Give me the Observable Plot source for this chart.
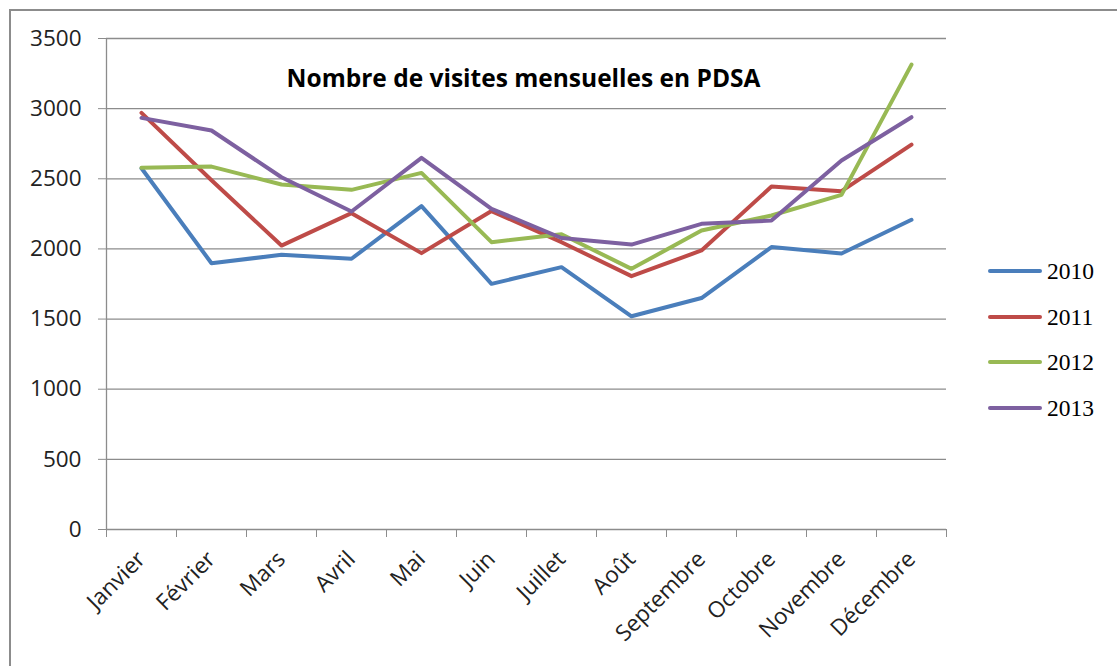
<!DOCTYPE html>
<html>
<head>
<meta charset="utf-8">
<script src="https://cdn.jsdelivr.net/npm/d3@7"></script>
<script src="https://cdn.jsdelivr.net/npm/@observablehq/plot@0.6"></script>
<style>
  html, body { margin: 0; padding: 0; background: #fff; }
  #wrap { position: relative; width: 1117px; height: 666px; overflow: hidden; }
  #border { position: absolute; left: 9px; top: 9px; width: 1200px; height: 800px; border: 2px solid #8c8c8c; box-sizing: border-box; pointer-events: none; }
  #legend { position: absolute; left: 988px; top: 0; font-family: "Liberation Serif", serif; font-size: 23.5px; color: #000; }
  .item { position: absolute; left: 0; display: flex; align-items: center; white-space: nowrap; }
  .swatch { width: 54px; height: 4px; border-radius: 2px; margin-right: 5px; }
</style>
</head>
<body>
<div id="wrap"><div id="chart"></div><div id="legend"></div><div id="border"></div></div>
<script>
const title = "Nombre de visites mensuelles en PDSA";
const months = ["Janvier","Février","Mars","Avril","Mai","Juin","Juillet","Août","Septembre","Octobre","Novembre","Décembre"];
const years = ["2010","2011","2012","2013"];
const colors = ["#4a7ebb","#be4b48","#98b954","#7d60a0"];
const v2010 = [2575, 1898, 1958, 1930, 2305, 1751, 1870, 1520, 1650, 2013, 1967, 2208];
const v2011 = [2970, 2490, 2024, 2255, 1970, 2270, 2048, 1806, 1989, 2445, 2412, 2744];
const v2012 = [2578, 2587, 2459, 2421, 2542, 2048, 2105, 1858, 2131, 2238, 2385, 3314];
const v2013 = [2934, 2844, 2511, 2267, 2649, 2286, 2078, 2031, 2179, 2202, 2630, 2939];
const yTicks = [0, 500, 1000, 1500, 2000, 2500, 3000, 3500];

const series = [v2010, v2011, v2012, v2013];
const data = [];
series.forEach((vals, s) => vals.forEach((v, i) => data.push({year: years[s], i, value: v})));
const boundaries = d3.range(months.length + 1).map(i => i - 0.5);

const chart = Plot.plot({
  width: 1117,
  height: 666,
  marginLeft: 106,
  marginRight: 171,
  marginTop: 38,
  marginBottom: 137,
  style: {background: "transparent", fontFamily: "'Open Sans', sans-serif", color: "#222", overflow: "visible"},
  x: {type: "linear", domain: [-0.5, months.length - 0.5]},
  y: {domain: [0, 3500]},
  color: {domain: years, range: colors},
  marks: [
    Plot.gridY(yTicks, {stroke: "#8c8c8c", strokeOpacity: 1, strokeWidth: 1.3}),
    Plot.ruleX([-0.5], {y1: 0, y2: 3500, stroke: "#8c8c8c", strokeWidth: 1.3}),
    Plot.axisY({ticks: yTicks, tickSize: 8, tickPadding: 17, tickFormat: d3.format("d"), fontSize: 22.5, stroke: "#8c8c8c", label: null, fill: "#222"}),
    Plot.axisX({ticks: boundaries, tickSize: 8, tickFormat: () => "", stroke: "#8c8c8c", label: null}),
    Plot.axisX({ticks: d3.range(months.length), tickSize: 0, tickRotate: -45, tickPadding: 26, tickFormat: i => months[i], fontSize: 22.5, label: null, fill: "#222", dx: 0}),
    Plot.line(data, {x: "i", y: "value", z: "year", stroke: "year", strokeWidth: 4, strokeLinejoin: "round", strokeLinecap: "round"}),
    Plot.text([title], {frameAnchor: "top", dy: 31, dx: -3, fontSize: 24.5, fontWeight: "bold", fill: "#000"})
  ]
});
document.getElementById("chart").appendChild(chart);

const legendTops = [271, 317, 362, 408];
const legend = document.getElementById("legend");
years.forEach((y, k) => {
  const item = document.createElement("div");
  item.className = "item";
  item.style.top = (legendTops[k] - 14) + "px";
  item.style.height = "28px";
  const sw = document.createElement("div");
  sw.className = "swatch";
  sw.style.background = colors[k];
  const t = document.createElement("span");
  t.textContent = y;
  item.appendChild(sw);
  item.appendChild(t);
  legend.appendChild(item);
});
</script>
</body>
</html>
